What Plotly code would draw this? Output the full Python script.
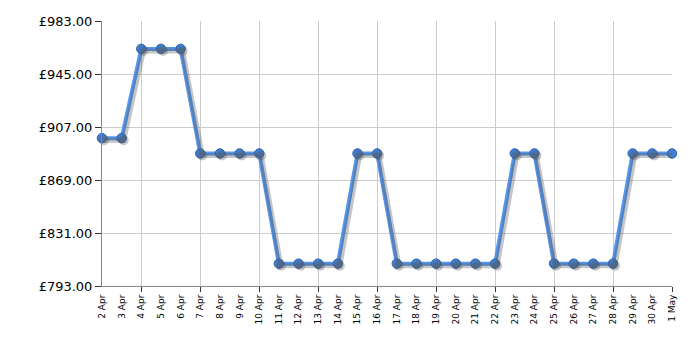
import plotly.graph_objects as go

dates = ["2 Apr","3 Apr","4 Apr","5 Apr","6 Apr","7 Apr","8 Apr","9 Apr","10 Apr",
         "11 Apr","12 Apr","13 Apr","14 Apr","15 Apr","16 Apr","17 Apr","18 Apr",
         "19 Apr","20 Apr","21 Apr","22 Apr","23 Apr","24 Apr","25 Apr","26 Apr",
         "27 Apr","28 Apr","29 Apr","30 Apr","1 May"]
prices = [899,899,963,963,963,888,888,888,888,
          809,809,809,809,888,888,809,809,
          809,809,809,809,888,888,809,809,
          809,809,888,888,888]
y_ticks = [793,831,869,907,945,983]
y_labels = ["\u00a3%.2f" % v for v in y_ticks]

idx = list(range(len(dates)))
ymin, ymax = 793, 983
L, R, T, B = 102, 28, 21, 64
W, H = 700, 350
pw = W - L - R
ph = H - T - B
xr = [0, len(dates) - 1]
dx = 2 * (xr[1] - xr[0]) / pw
dy = 2 * (ymax - ymin) / ph

fig = go.Figure()
# shadow
fig.add_trace(go.Scatter(x=idx, y=prices, mode="lines+markers", xaxis="x2", yaxis="y2",
                         line=dict(color="rgba(90,90,90,0.35)", width=5),
                         marker=dict(size=10, color="rgba(90,90,90,0.35)"),
                         hoverinfo="skip", cliponaxis=False, showlegend=False))
fig.add_trace(go.Scatter(x=idx, y=prices, mode="lines+markers",
                         line=dict(color="#5597ef", width=4),
                         marker=dict(size=9.5, color="#3f7ed2", line=dict(color="#2d62ad", width=1)),
                         cliponaxis=False, showlegend=False))

fig.update_layout(
    width=W, height=H, margin=dict(l=L, r=R, t=T, b=B),
    paper_bgcolor="white", plot_bgcolor="white",
    font=dict(family="DejaVu Sans", color="#000"),
    xaxis=dict(range=xr, tickvals=idx, ticktext=dates, tickangle=-90,
               tickfont=dict(size=9), showgrid=False, ticks="", zeroline=False,
               showline=True, linecolor="#888", linewidth=1, mirror=False,
               minor=dict(tick0=2, dtick=3, showgrid=True, gridcolor="#cccccc",
                          gridwidth=1, ticks="outside", ticklen=5, tickcolor="#333"),
               ticklabelstandoff=4),
    yaxis=dict(range=[ymin, ymax], tickvals=y_ticks, ticktext=y_labels,
               tickfont=dict(size=13), showgrid=True, gridcolor="#cccccc",
               ticks="outside", ticklen=6, tickcolor="#333", zeroline=False,
               showline=True, linecolor="#888", linewidth=1),
    xaxis2=dict(range=[xr[0] - dx, xr[1] - dx], overlaying="x", visible=False),
    yaxis2=dict(range=[ymin + dy, ymax + dy], overlaying="y", visible=False),
)
fig.write_html("out.html")
